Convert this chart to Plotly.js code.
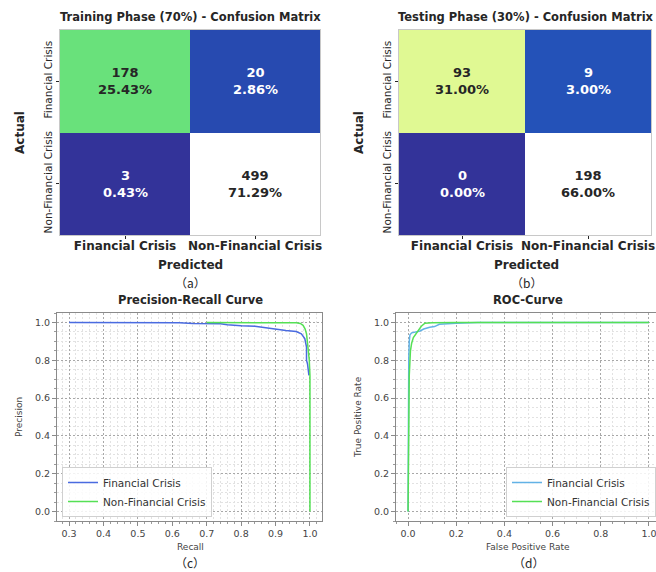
<!DOCTYPE html>
<html>
<head>
<meta charset="utf-8">
<script src="https://cdn.plot.ly/plotly-3.0.1.min.js"></script>
<style>
html,body{margin:0;padding:0;background:#fff;overflow:hidden;}
#chart{width:668px;height:572px;}
</style>
</head>
<body>
<div id="chart"></div>
<script>
// ---------- data ----------
const classLabels = ['Financial Crisis', 'Non-Financial Crisis'];
const trainCounts = [[178, 20], [3, 499]];
const testCounts = [[93, 9], [0, 198]];

const prRecallFC = [0.30, 0.45, 0.60, 0.62, 0.66, 0.70, 0.74, 0.76, 0.80, 0.84, 0.86, 0.88, 0.90, 0.93, 0.96, 0.975, 0.985, 0.990, 0.990, 0.993, 0.995, 0.997];
const prPrecFC   = [1.00, 1.00, 1.00, 0.998, 0.995, 0.995, 0.993, 0.988, 0.982, 0.980, 0.975, 0.968, 0.962, 0.958, 0.952, 0.940, 0.915, 0.870, 0.800, 0.780, 0.750, 0.720];
const prRecallNFC = [0.70, 0.80, 0.90, 0.96, 0.972, 0.980, 0.986, 0.990, 0.993, 0.996, 0.998, 1.0, 1.0];
const prPrecNFC   = [1.00, 1.00, 1.00, 0.998, 0.995, 0.985, 0.965, 0.940, 0.890, 0.850, 0.800, 0.720, 0.0];

const rocFprFC = [0, 0, 0.003, 0.005, 0.008, 0.015, 0.035, 0.05, 0.065, 0.09, 0.11, 0.13, 0.20, 0.29, 1.0];
const rocTprFC = [0, 0.72, 0.80, 0.90, 0.935, 0.945, 0.950, 0.955, 0.965, 0.975, 0.978, 0.990, 0.996, 1.0, 1.0];
const rocFprNFC = [0, 0.005, 0.010, 0.015, 0.022, 0.030, 0.043, 0.055, 0.070, 0.10, 0.20, 1.0];
const rocTprNFC = [0, 0.72, 0.85, 0.89, 0.92, 0.935, 0.955, 0.980, 0.996, 0.998, 1.0, 1.0];

const panelTitles = ['Training Phase (70%) - Confusion Matrix', 'Testing Phase (30%) - Confusion Matrix', 'Precision-Recall Curve', 'ROC-Curve'];
const panelTags = ['（a）', '（b）', '（c）', '（d）'];

// ---------- helpers ----------
const W = 668, H = 572;
const px = v => v / W;
const py = v => 1 - v / H;
const terrain = [[0, '#333399'], [0.15, '#0099ff'], [0.25, '#00cc66'], [0.5, '#ffff99'], [0.75, '#805c5c'], [1, '#ffffff']];
const fam = 'DejaVu Sans';
const dark = '#262626';

function heat(counts, xa, ya) {
  const flat = counts.flat();
  return {
    type: 'heatmap', z: counts, x: classLabels, y: classLabels,
    xaxis: xa, yaxis: ya, colorscale: terrain,
    zmin: Math.min(...flat), zmax: Math.max(...flat),
    showscale: false, hoverinfo: 'skip', xgap: 0, ygap: 0
  };
}

function cellAnnots(counts, xa, ya) {
  const flat = counts.flat();
  const total = flat.reduce((a, b) => a + b, 0);
  const mn = Math.min(...flat), mx = Math.max(...flat);
  const out = [];
  counts.forEach((row, i) => row.forEach((v, j) => {
    const frac = (v - mn) / (mx - mn);
    out.push({
      x: classLabels[j], y: classLabels[i], xref: xa, yref: ya,
      text: '<b>' + v + '<br>' + (v / total * 100).toFixed(2) + '%</b>',
      showarrow: false,
      font: {family: fam, size: 13, color: frac > 0.3 ? dark : '#ffffff'}
    });
  }));
  return out;
}

const heatX = (dom) => ({
  domain: dom, showgrid: false, zeroline: false,
  ticks: 'outside', ticklen: 3, tickcolor: dark, ticklabelstandoff: -3,
  tickfont: {family: fam, size: 12, color: dark, weight: 'bold'},
  showline: true, linecolor: '#c8c8c8', mirror: true, fixedrange: true
});
const heatY = (dom) => ({
  domain: dom, showgrid: false, zeroline: false, autorange: 'reversed',
  ticks: 'outside', ticklen: 3, tickcolor: dark, tickangle: -90,
  tickfont: {family: fam, size: 10.5, color: dark},
  showline: true, linecolor: '#c8c8c8', mirror: true, fixedrange: true
});

function curveAxis(dom, range, dtick, minorDtick) {
  return {
    domain: dom, range: range, dtick: dtick, tick0: 0, tickformat: '.1f',
    showgrid: true, gridcolor: '#a8a8a8', griddash: '2px,2px', gridwidth: 1,
    zeroline: false, showline: true, linecolor: '#8a8a8a', mirror: true,
    ticks: 'outside', ticklen: 4, tickcolor: '#8a8a8a',
    tickfont: {family: fam, size: 9.5, color: '#444'},
    minor: {dtick: minorDtick, showgrid: true, gridcolor: '#e2e2e2', gridwidth: 1,
            ticks: 'outside', ticklen: 2, tickcolor: '#9a9a9a'},
    fixedrange: true
  };
}

const blueC = '#4a6be0', blueD = '#62b2e6', green = '#55e055';

const traces = [
  heat(trainCounts, 'x', 'y'),
  heat(testCounts, 'x2', 'y2'),
  {type: 'scatter', mode: 'lines', x: prRecallFC, y: prPrecFC, xaxis: 'x3', yaxis: 'y3',
   name: classLabels[0], line: {color: blueC, width: 1.5}, legend: 'legend'},
  {type: 'scatter', mode: 'lines', x: prRecallNFC, y: prPrecNFC, xaxis: 'x3', yaxis: 'y3',
   name: classLabels[1], line: {color: green, width: 1.5}, legend: 'legend'},
  {type: 'scatter', mode: 'lines', x: rocFprFC, y: rocTprFC, xaxis: 'x4', yaxis: 'y4',
   name: classLabels[0], line: {color: blueD, width: 1.5}, legend: 'legend2'},
  {type: 'scatter', mode: 'lines', x: rocFprNFC, y: rocTprNFC, xaxis: 'x4', yaxis: 'y4',
   name: classLabels[1], line: {color: green, width: 1.5}, legend: 'legend2'}
];

const xa1 = heatX([px(60), px(320)]); xa1.anchor = 'y';
const ya1 = heatY([py(235), py(30)]); ya1.anchor = 'x';
const xa2 = heatX([px(399), px(651)]); xa2.anchor = 'y2';
const ya2 = heatY([py(235), py(30)]); ya2.anchor = 'x2';
const xa3 = curveAxis([px(57), px(322)], [0.265, 1.035], 0.1, 0.02); xa3.anchor = 'y3';
const ya3 = curveAxis([py(521), py(313)], [-0.05, 1.05], 0.2, 0.05); ya3.anchor = 'x3';
const xa4 = curveAxis([px(396), px(661)], [-0.05, 1.05], 0.2, 0.05); xa4.anchor = 'y4';
const ya4 = curveAxis([py(521), py(313)], [-0.05, 1.05], 0.2, 0.05); ya4.anchor = 'x4';

function label(text, x, y, size, bold, opts) {
  return Object.assign({
    text: bold ? '<b>' + text + '</b>' : text, x: px(x), y: py(y), xref: 'paper', yref: 'paper',
    showarrow: false, xanchor: 'center', yanchor: 'middle',
    font: {family: fam, size: size, color: dark}
  }, opts || {});
}
const small = {family: fam, size: 9, color: '#444'};
const tagFont = {family: 'Noto Sans CJK SC', size: 12, color: dark};

const annots = [
  ...cellAnnots(trainCounts, 'x', 'y'),
  ...cellAnnots(testCounts, 'x2', 'y2'),
  label(panelTitles[0], 190, 17, 11.5, true),
  label(panelTitles[1], 526, 17, 11.5, true),
  label('Actual', 20, 133, 12, true, {textangle: -90}),
  label('Actual', 359, 133, 12, true, {textangle: -90}),
  label('Predicted', 190, 265, 12, true),
  label('Predicted', 526, 265, 12, true),
  label(panelTags[0], 190, 282, 12, false, {font: tagFont}),
  label(panelTags[1], 526, 282, 12, false, {font: tagFont}),
  label(panelTitles[2], 190, 300, 11.5, true),
  label(panelTitles[3], 528, 300, 11.5, true),
  label('Recall', 190, 547, 9, false, {font: small}),
  label('False Positive Rate', 528, 547, 9, false, {font: small}),
  label('Precision', 19, 417, 9, false, {textangle: -90, font: small}),
  label('True Positive Rate', 358, 417, 9, false, {textangle: -90, font: small}),
  label(panelTags[2], 190, 562, 12, false, {font: tagFont}),
  label(panelTags[3], 528, 562, 12, false, {font: tagFont})
];

const legendStyle = (x) => ({
  x: px(x), y: py(517), xanchor: 'left', yanchor: 'bottom', xref: 'paper', yref: 'paper',
  bgcolor: 'rgba(255,255,255,0.85)', bordercolor: '#d0d0d0', borderwidth: 1,
  font: {family: fam, size: 10.5, color: '#333'}, tracegroupgap: 0, itemwidth: 30
});

const layout = {
  width: W, height: H, margin: {l: 0, r: 0, t: 0, b: 0},
  paper_bgcolor: '#ffffff', plot_bgcolor: '#ffffff', showlegend: true,
  xaxis: xa1, yaxis: ya1, xaxis2: xa2, yaxis2: ya2,
  xaxis3: xa3, yaxis3: ya3, xaxis4: xa4, yaxis4: ya4,
  legend: legendStyle(62), legend2: legendStyle(506),
  annotations: annots
};

Plotly.newPlot('chart', traces, layout, {displayModeBar: false, staticPlot: true});
</script>
</body>
</html>
